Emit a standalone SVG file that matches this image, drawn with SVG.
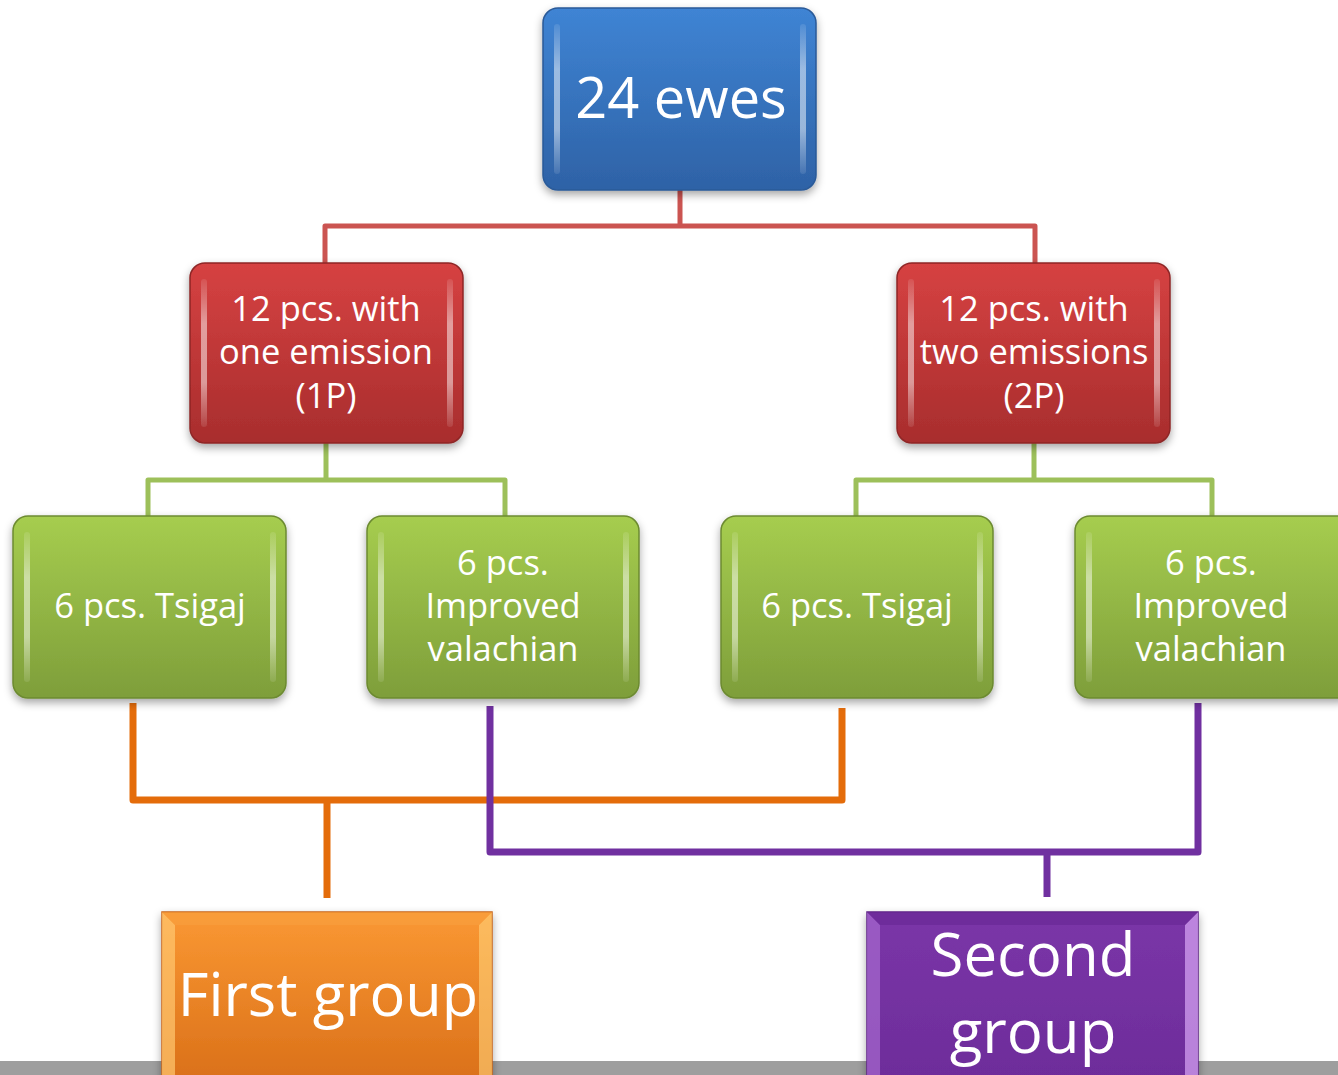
<svg xmlns="http://www.w3.org/2000/svg" width="1338" height="1075" viewBox="0 0 1338 1075">
<style>
.t{font-family:"Open Sans","Liberation Sans",sans-serif;fill:#fff;text-anchor:middle}
.s{font-size:34.5px}
.c{fill:none;stroke-linejoin:round}
</style>
<defs>
<linearGradient id="gB" x1="0" y1="0" x2="0" y2="1"><stop offset="0" stop-color="#3F84D4"/><stop offset="1" stop-color="#2E62A6"/></linearGradient>
<linearGradient id="gR" x1="0" y1="0" x2="0" y2="1"><stop offset="0" stop-color="#D64242"/><stop offset="1" stop-color="#A82D2D"/></linearGradient>
<linearGradient id="gG" x1="0" y1="0" x2="0" y2="1"><stop offset="0" stop-color="#A6CD4F"/><stop offset="1" stop-color="#7E9E3A"/></linearGradient>
<linearGradient id="gO" x1="0" y1="0" x2="0" y2="1"><stop offset="0" stop-color="#FA9833"/><stop offset="1" stop-color="#DA7019"/></linearGradient>
<linearGradient id="gP" x1="0" y1="0" x2="0" y2="1"><stop offset="0" stop-color="#7B36A8"/><stop offset="1" stop-color="#6D2C9A"/></linearGradient>
<linearGradient id="hlV" x1="0" y1="0" x2="0" y2="1"><stop offset="0" stop-color="#fff" stop-opacity="0.1"/><stop offset="0.3" stop-color="#fff" stop-opacity="0.5"/><stop offset="0.7" stop-color="#fff" stop-opacity="0.5"/><stop offset="1" stop-color="#fff" stop-opacity="0.1"/></linearGradient>
<filter id="sh" x="-10%" y="-10%" width="120%" height="125%"><feDropShadow dx="0" dy="4" stdDeviation="4" flood-color="#000" flood-opacity="0.35"/></filter>
</defs>
<rect x="0" y="1061" width="1338" height="14" fill="#9E9E9E"/>
<g id="connectors" class="c">
<path d="M680 190V226M325 263V226H1035V263" stroke="#CB5451" stroke-width="5"/>
<path d="M326 443V480M148 516V480H505V516" stroke="#9DC05A" stroke-width="5"/>
<path d="M1034 443V480M856 516V480H1212V516" stroke="#9DC05A" stroke-width="5"/>
<path d="M133 703V800H842V708M327 800V898" stroke="#E46C0A" stroke-width="7"/>
<path d="M490 706V852H1198V703M1047 852V897" stroke="#7030A0" stroke-width="7"/>
</g>
<g id="n-ewes">
<rect x="543" y="8" width="273" height="182" rx="15" fill="url(#gB)" stroke="#2A5A98" stroke-width="1.5" filter="url(#sh)"/>
<rect x="554" y="24" width="6" height="150" rx="3" fill="url(#hlV)"/>
<rect x="800" y="24" width="6" height="150" rx="3" fill="url(#hlV)"/>
<text class="t" x="681" y="118" font-size="56">24 ewes</text>
</g>
<g id="n-1p">
<rect x="190" y="263" width="273" height="180" rx="15" fill="url(#gR)" stroke="#8E2626" stroke-width="1.5" filter="url(#sh)"/>
<rect x="201" y="279" width="6" height="148" rx="3" fill="url(#hlV)"/>
<rect x="447" y="279" width="6" height="148" rx="3" fill="url(#hlV)"/>
<text class="t s" x="326" y="321">12 pcs. with</text>
<text class="t s" x="326" y="364">one emission</text>
<text class="t s" x="326" y="408">(1P)</text>
</g>
<g id="n-2p">
<rect x="897" y="263" width="273" height="180" rx="15" fill="url(#gR)" stroke="#8E2626" stroke-width="1.5" filter="url(#sh)"/>
<rect x="908" y="279" width="6" height="148" rx="3" fill="url(#hlV)"/>
<rect x="1154" y="279" width="6" height="148" rx="3" fill="url(#hlV)"/>
<text class="t s" x="1034" y="321">12 pcs. with</text>
<text class="t s" x="1034" y="364">two emissions</text>
<text class="t s" x="1034" y="408">(2P)</text>
</g>
<g id="n-tsigaj1">
<rect x="13" y="516" width="273" height="182" rx="15" fill="url(#gG)" stroke="#6C8A30" stroke-width="1.5" filter="url(#sh)"/>
<rect x="24" y="532" width="6" height="150" rx="3" fill="url(#hlV)"/>
<rect x="270" y="532" width="6" height="150" rx="3" fill="url(#hlV)"/>
<text class="t s" x="150" y="618">6 pcs. Tsigaj</text>
</g>
<g id="n-val1">
<rect x="367" y="516" width="272" height="182" rx="15" fill="url(#gG)" stroke="#6C8A30" stroke-width="1.5" filter="url(#sh)"/>
<rect x="378" y="532" width="6" height="150" rx="3" fill="url(#hlV)"/>
<rect x="623" y="532" width="6" height="150" rx="3" fill="url(#hlV)"/>
<text class="t s" x="503" y="575">6 pcs.</text>
<text class="t s" x="503" y="618">Improved</text>
<text class="t s" x="503" y="661">valachian</text>
</g>
<g id="n-tsigaj2">
<rect x="721" y="516" width="272" height="182" rx="15" fill="url(#gG)" stroke="#6C8A30" stroke-width="1.5" filter="url(#sh)"/>
<rect x="732" y="532" width="6" height="150" rx="3" fill="url(#hlV)"/>
<rect x="977" y="532" width="6" height="150" rx="3" fill="url(#hlV)"/>
<text class="t s" x="857" y="618">6 pcs. Tsigaj</text>
</g>
<g id="n-val2">
<rect x="1075" y="516" width="278" height="182" rx="15" fill="url(#gG)" stroke="#6C8A30" stroke-width="1.5" filter="url(#sh)"/>
<rect x="1086" y="532" width="6" height="150" rx="3" fill="url(#hlV)"/>
<text class="t s" x="1211" y="575">6 pcs.</text>
<text class="t s" x="1211" y="618">Improved</text>
<text class="t s" x="1211" y="661">valachian</text>
</g>
<g id="n-first">
<rect x="162" y="912" width="330" height="170" fill="url(#gO)" stroke="#C7651A" stroke-width="1.5" filter="url(#sh)"/>
<polygon points="162,912 175,925 175,1075 162,1075" fill="#FFC870" opacity="0.7"/>
<polygon points="492,912 479,925 479,1075 492,1075" fill="#FFD27A" opacity="0.6"/>
<polygon points="162,912 492,912 479,925 175,925" fill="#F9A040" opacity="0.6"/>
<text class="t" x="328" y="1016" font-size="59.5">First group</text>
</g>
<g id="n-second">
<rect x="867" y="912" width="331" height="170" fill="url(#gP)" stroke="#5E2585" stroke-width="1.5" filter="url(#sh)"/>
<polygon points="867,912 880,925 880,1075 867,1075" fill="#A66ACF" opacity="0.7"/>
<polygon points="1198,912 1185,925 1185,1075 1198,1075" fill="#D9A6F5" opacity="0.7"/>
<polygon points="867,912 1198,912 1185,925 880,925" fill="#6A2A96" opacity="0.7"/>
<text class="t" x="1033" y="976" font-size="60">Second</text>
<text class="t" x="1033" y="1053" font-size="60">group</text>
</g>
</svg>
